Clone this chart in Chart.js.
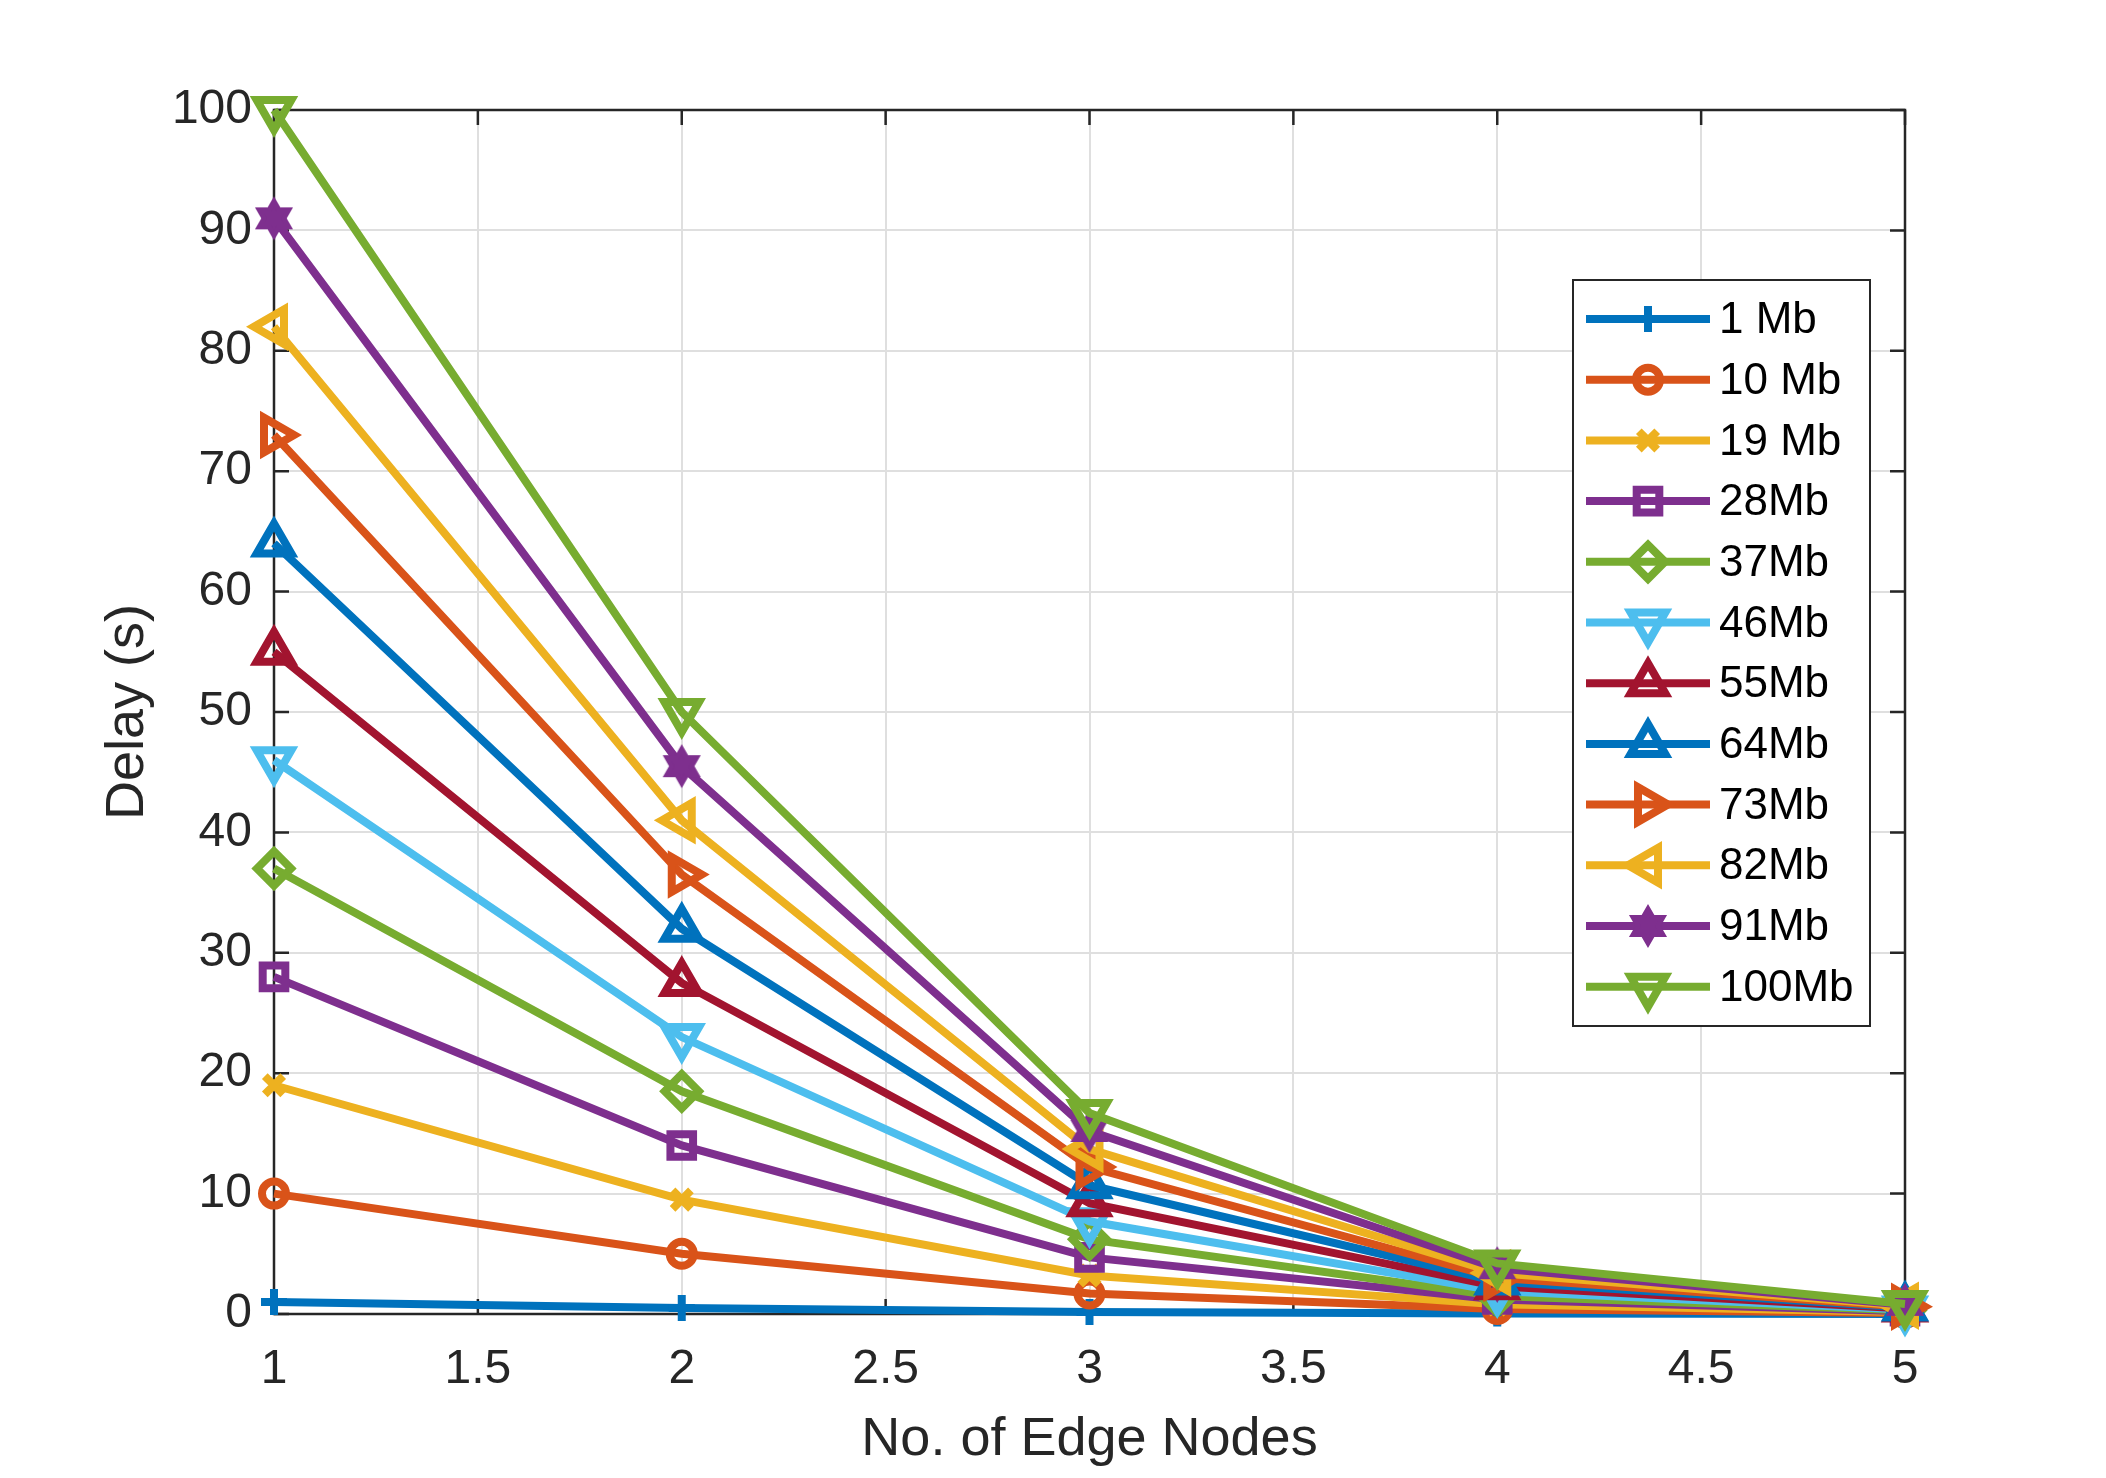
<!DOCTYPE html>
<html><head><meta charset="utf-8">
<script src="https://cdn.jsdelivr.net/npm/chart.js@4.4.0/dist/chart.umd.min.js"></script>
<style>html,body{margin:0;padding:0;background:#fff;overflow:hidden}#wrap{width:2106px;height:1478px;position:relative}</style>
</head><body><div id="wrap"><canvas id="c" width="2106" height="1478"></canvas></div>
<script>
// ---------------- data ----------------
const edgeNodes = [1, 2, 3, 4, 5];
const xTickValues = [1, 1.5, 2, 2.5, 3, 3.5, 4, 4.5, 5];
const xTickLabels = ['1', '1.5', '2', '2.5', '3', '3.5', '4', '4.5', '5'];
const yTickValues = [0, 10, 20, 30, 40, 50, 60, 70, 80, 90, 100];
const yTickLabels = ['0', '10', '20', '30', '40', '50', '60', '70', '80', '90', '100'];
const seriesLabels = ['1 Mb', '10 Mb', '19 Mb', '28Mb', '37Mb', '46Mb', '55Mb', '64Mb', '73Mb', '82Mb', '91Mb', '100Mb'];
const delay1Mb   = [1, 0.5, 0.17, 0.04, 0.01];
const delay10Mb  = [10, 5, 1.7, 0.42, 0.08];
const delay19Mb  = [19, 9.5, 3.2, 0.8, 0.16];
const delay28Mb  = [28, 14, 4.7, 1.2, 0.23];
const delay37Mb  = [37, 18.5, 6.2, 1.5, 0.31];
const delay46Mb  = [46, 23, 7.7, 1.9, 0.38];
const delay55Mb  = [55, 27.5, 9.2, 2.3, 0.46];
const delay64Mb  = [64, 32, 10.7, 2.7, 0.53];
const delay73Mb  = [73, 36.5, 12.2, 3.0, 0.61];
const delay82Mb  = [82, 41, 13.7, 3.4, 0.68];
const delay91Mb  = [91, 45.5, 15.2, 3.8, 0.76];
const delay100Mb = [100, 50, 16.7, 4.2, 0.83];
const seriesValues = [delay1Mb, delay10Mb, delay19Mb, delay28Mb, delay37Mb, delay46Mb,
                      delay55Mb, delay64Mb, delay73Mb, delay82Mb, delay91Mb, delay100Mb];

// ---------------- styles ----------------
const seriesColors = ['#0072BD', '#D95319', '#EDB120', '#7E2F8E', '#77AC30', '#4DBEEE',
                      '#A2142F', '#0072BD', '#D95319', '#EDB120', '#7E2F8E', '#77AC30'];
function makeHexagram(color) {
  const size = 50, c = document.createElement('canvas');
  c.width = size; c.height = size;
  const g = c.getContext('2d');
  const R = 17, r = R / Math.sqrt(3);
  g.beginPath();
  for (let k = 0; k < 12; k++) {
    const a = -Math.PI / 2 + k * Math.PI / 6;
    const rr = (k % 2 === 0) ? R : r;
    g.lineTo(size / 2 + rr * Math.cos(a), size / 2 + rr * Math.sin(a));
  }
  g.closePath();
  g.fillStyle = color; g.fill();
  g.lineWidth = 5; g.strokeStyle = color; g.lineJoin = 'miter'; g.stroke();
  return c;
}
const markerStyles = [
  {style: 'cross', rot: 0, r: 13},
  {style: 'circle', rot: 0, r: 12},
  {style: 'crossRot', rot: 0, r: 13},
  {style: 'rect', rot: 0, r: 16},
  {style: 'rectRot', rot: 0, r: 17},
  {style: 'triangle', rot: 180, r: 20},
  {style: 'triangle', rot: 0, r: 20},
  {style: 'triangle', rot: 0, r: 20},
  {style: 'triangle', rot: 90, r: 20},
  {style: 'triangle', rot: 270, r: 20},
  {style: 'hexagram', rot: 0, r: 18},
  {style: 'triangle', rot: 180, r: 20}
];
const AXIS_COLOR = '#262626';
const FONT = "'Liberation Sans', Arial, sans-serif";

const datasets = seriesLabels.map((label, i) => {
  const m = markerStyles[i];
  const ps = m.style === 'hexagram' ? makeHexagram(seriesColors[i]) : m.style;
  return {
    label: label,
    data: edgeNodes.map((x, j) => ({x: x, y: seriesValues[i][j]})),
    borderColor: seriesColors[i],
    backgroundColor: seriesColors[i],
    borderWidth: 8,
    tension: 0,
    pointStyle: ps,
    pointRotation: m.rot,
    pointRadius: m.r,
    pointHoverRadius: m.r,
    pointBorderWidth: 8,
    pointBorderColor: seriesColors[i],
    pointBackgroundColor: 'rgba(0,0,0,0)',
    clip: false,
    order: seriesLabels.length - i
  };
});

function drawMarker(ctx, ds, x, y) {
  ctx.save();
  ctx.strokeStyle = ds.pointBorderColor;
  ctx.fillStyle = ds.pointBackgroundColor;
  ctx.lineWidth = ds.pointBorderWidth;
  const opts = {pointStyle: ds.pointStyle, rotation: ds.pointRotation, radius: ds.pointRadius, borderWidth: ds.pointBorderWidth};
  if (Chart.helpers && Chart.helpers.drawPoint) {
    Chart.helpers.drawPoint(ctx, opts, x, y);
  }
  ctx.restore();
}

const boxPlugin = {
  id: 'matlabBox',
  beforeDatasetsDraw(chart) {
    const {ctx, chartArea: a, scales} = chart;
    ctx.save();
    ctx.strokeStyle = AXIS_COLOR;
    ctx.lineWidth = 2.5;
    const tl = 15;
    ctx.beginPath();
    xTickValues.forEach(v => {
      const px = scales.x.getPixelForValue(v);
      ctx.moveTo(px, a.bottom); ctx.lineTo(px, a.bottom - tl);
      ctx.moveTo(px, a.top); ctx.lineTo(px, a.top + tl);
    });
    yTickValues.forEach(v => {
      const py = scales.y.getPixelForValue(v);
      ctx.moveTo(a.left, py); ctx.lineTo(a.left + tl, py);
      ctx.moveTo(a.right, py); ctx.lineTo(a.right - tl, py);
    });
    ctx.stroke();
    ctx.strokeRect(a.left, a.top, a.right - a.left, a.bottom - a.top);
    ctx.restore();
  },
  afterDraw(chart) {
    const {ctx, chartArea: a} = chart;
    const right = a.right - 35, top = a.top + 170;
    const width = 297, rowH = 60.7;
    const left = right - width, bottom = top + 746;
    ctx.save();
    ctx.fillStyle = '#ffffff';
    ctx.fillRect(left, top, width, bottom - top);
    ctx.strokeStyle = AXIS_COLOR;
    ctx.lineWidth = 2;
    ctx.strokeRect(left, top, width, bottom - top);
    ctx.font = '44px ' + FONT;
    ctx.textBaseline = 'middle';
    ctx.textAlign = 'left';
    chart.data.datasets.forEach((ds, i) => {
      const y = top + 39 + i * rowH;
      ctx.strokeStyle = ds.borderColor;
      ctx.lineWidth = ds.borderWidth;
      ctx.beginPath();
      ctx.moveTo(left + 13, y); ctx.lineTo(left + 137, y);
      ctx.stroke();
      drawMarker(ctx, ds, left + 75, y);
      ctx.fillStyle = '#000000';
      ctx.fillText(ds.label, left + 146, y + 2);
    });
    ctx.restore();
  }
};

Chart.defaults.font.family = FONT;
new Chart(document.getElementById('c'), {
  type: 'line',
  data: {datasets: datasets},
  plugins: [boxPlugin],
  options: {
    responsive: false,
    animation: false,
    events: [],
    layout: {padding: {top: 110, right: 201, bottom: 0, left: 0}},
    plugins: {legend: {display: false}, tooltip: {enabled: false}},
    scales: {
      x: {
        type: 'linear', position: 'bottom', min: 1, max: 5,
        afterBuildTicks: s => { s.ticks = xTickValues.map(v => ({value: v})); },
        afterFit: s => { s.height = 164; },
        grid: {color: '#dfdfdf', lineWidth: 2, drawTicks: false},
        border: {display: false},
        ticks: {font: {size: 48}, color: AXIS_COLOR, padding: 27, autoSkip: false, maxRotation: 0,
                callback: (v, i) => xTickLabels[i]},
        title: {display: true, text: 'No. of Edge Nodes', font: {size: 54}, color: AXIS_COLOR, padding: {top: 0, bottom: 5}}
      },
      y: {
        type: 'linear', min: 0, max: 100,
        afterBuildTicks: s => { s.ticks = yTickValues.map(v => ({value: v})); },
        afterFit: s => { s.width = 274; },
        grid: {color: '#dfdfdf', lineWidth: 2, drawTicks: false},
        border: {display: false},
        ticks: {font: {size: 48}, color: AXIS_COLOR, padding: 22, autoSkip: false,
                callback: (v, i) => yTickLabels[i]},
        title: {display: true, text: 'Delay (s)', font: {size: 54}, color: AXIS_COLOR, padding: {top: 96, bottom: 0}}
      }
    }
  }
});
</script></body></html>
